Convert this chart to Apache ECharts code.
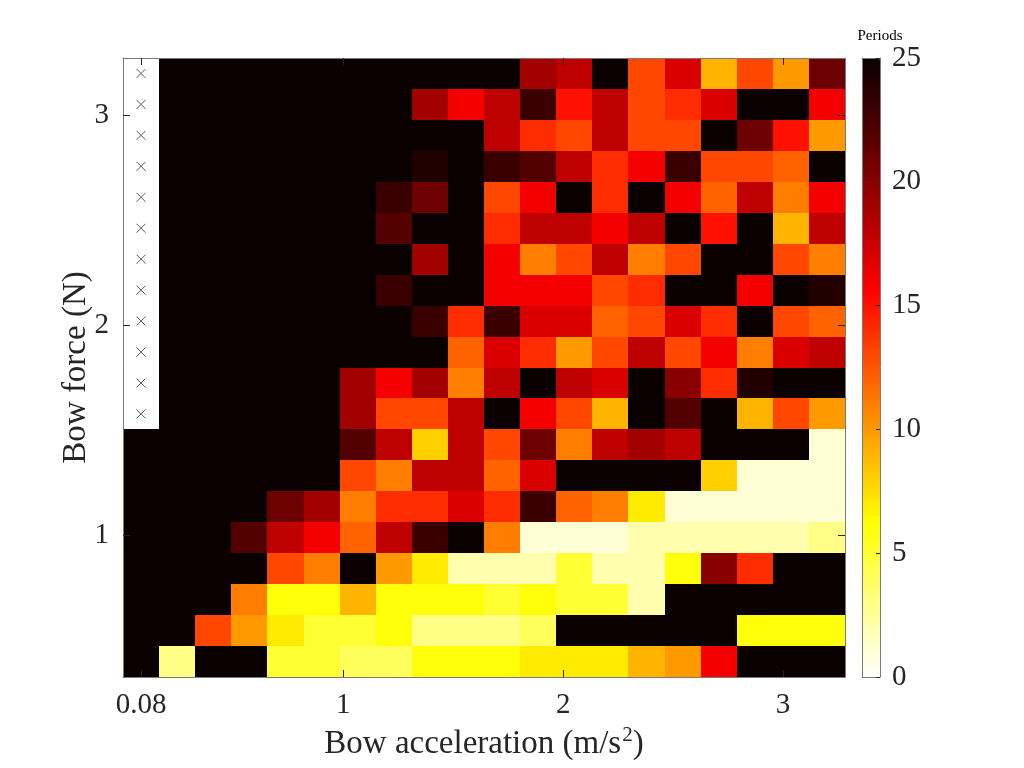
<!DOCTYPE html>
<html><head><meta charset="utf-8">
<script src="https://cdn.jsdelivr.net/npm/echarts@6/dist/echarts.min.js"></script>
<style>html,body{margin:0;padding:0;background:#fff}#c{width:1024px;height:768px}</style>
</head><body><div id="c"></div>
<script>
// Bow acceleration (m/s^2) – column centres
const xValues = [0.08, 0.2442, 0.4084, 0.5726, 0.7368, 0.9011, 1.0653, 1.2295, 1.3937, 1.5579,
                 1.7221, 1.8863, 2.0505, 2.2147, 2.3789, 2.5432, 2.7074, 2.8716, 3.0358, 3.2];
// Bow force (N) – row centres (bottom to top)
const yValues = [0.4, 0.5474, 0.6947, 0.8421, 0.9895, 1.1368, 1.2842, 1.4316, 1.5789, 1.7263,
                 1.8737, 2.0211, 2.1684, 2.3158, 2.4632, 2.6105, 2.7579, 2.9053, 3.0526, 3.2];
const xTicks = [0.08, 1, 2, 3];
const yTicks = [1, 2, 3];
const colorbarTicks = [0, 5, 10, 15, 20, 25];
// Periods, rows listed from the top (force 3.2) down to the bottom (force 0.4); null = not computed
const periodsTopDown = [
  [null,25,25,25,25,25,25,25,25,25,25,19,18,25,13,17, 9,13,10,21],
  [null,25,25,25,25,25,25,25,19,16,18,23,15,18,13,14,17,25,25,16],
  [null,25,25,25,25,25,25,25,25,25,18,14,13,18,13,13,25,21,15,10],
  [null,25,25,25,25,25,25,25,24,25,23,22,18,14,16,23,13,13,12,25],
  [null,25,25,25,25,25,25,23,21,25,13,16,25,14,25,16,12,18,11,16],
  [null,25,25,25,25,25,25,22,25,25,14,18,18,16,18,25,15,25, 9,18],
  [null,25,25,25,25,25,25,25,19,25,16,11,13,18,11,13,25,25,13,11],
  [null,25,25,25,25,25,25,23,25,25,16,16,16,13,14,25,25,16,25,24],
  [null,25,25,25,25,25,25,25,23,14,23,17,17,12,13,17,14,25,13,12],
  [null,25,25,25,25,25,25,25,25,12,17,14,10,13,18,13,16,11,17,18],
  [null,25,25,25,25,25,19,16,19,11,18,25,18,17,25,20,14,24,25,25],
  [null,25,25,25,25,25,19,13,13,18,25,16,13, 9,25,22,25, 9,13,10],
  [25,25,25,25,25,25,22,18, 8,18,13,21,11,18,19,18,25,25,25, 1],
  [25,25,25,25,25,25,13,11,18,18,12,17,25,25,25,25, 8, 1, 1, 1],
  [25,25,25,25,21,19,11,14,14,17,14,23,12,11, 7, 1, 1, 1, 1, 1],
  [25,25,25,22,18,16,12,18,23,25,11, 1, 1, 1, 2, 2, 2, 2, 2, 3],
  [25,25,25,25,13,11,25,10, 7, 2, 2, 2, 5, 2, 2, 6,20,14,25,25],
  [25,25,25,11, 6, 6, 9, 6, 6, 6, 5, 6, 5, 5, 2,25,25,25,25,25],
  [25,25,13,10, 7, 5, 5, 6, 3, 3, 3, 4,25,25,25,25,25, 6, 6, 6],
  [25, 3,25,25, 5, 5, 4, 4, 6, 6, 6, 7, 7, 7, 9,10,16,25,25,25]
];

const FONT = 'Liberation Serif';
const TXT = '#262626';
const BOX = '#7a7a7a';

function edges(v) {
  const e = [v[0] - (v[1] - v[0]) / 2];
  for (let i = 1; i < v.length; i++) e.push((v[i - 1] + v[i]) / 2);
  e.push(v[v.length - 1] + (v[v.length - 1] - v[v.length - 2]) / 2);
  return e;
}
const xE = edges(xValues), yE = edges(yValues);

const cells = [], nanCells = [];
periodsTopDown.forEach((row, r) => {
  const j = yValues.length - 1 - r;
  row.forEach((v, i) => {
    if (v === null) nanCells.push([xValues[i], yValues[j], i, j]);
    else cells.push([xValues[i], yValues[j], v, i, j]);
  });
});

function renderCell(params, api) {
  const i = api.value(3), j = api.value(4);
  const a = api.coord([xE[i], yE[j + 1]]), b = api.coord([xE[i + 1], yE[j]]);
  const x0 = Math.round(a[0]), y0 = Math.round(a[1]), x1 = Math.round(b[0]), y1 = Math.round(b[1]);
  return { type: 'rect', shape: { x: x0, y: y0, width: x1 - x0, height: y1 - y0 },
           style: { fill: api.visual('color') } };
}
function renderNan(params, api) {
  const c = api.coord([api.value(0), api.value(1)]);
  const s = 4.5;
  const st = { stroke: '#5a5a5a', lineWidth: 1 };
  return { type: 'group', children: [
    { type: 'line', shape: { x1: c[0] - s, y1: c[1] - s, x2: c[0] + s, y2: c[1] + s }, style: st },
    { type: 'line', shape: { x1: c[0] - s, y1: c[1] + s, x2: c[0] + s, y2: c[1] - s }, style: st }
  ]};
}

const lbl = { fontFamily: FONT, fontSize: 29, color: TXT };
const boxLine = { show: true, onZero: false, lineStyle: { color: BOX, width: 1 } };
const tickIn = (vals) => ({ show: true, inside: true, length: 7, customValues: vals, lineStyle: { color: TXT, width: 1 } });

const chart = echarts.init(document.getElementById('c'), null, { renderer: 'canvas' });
chart.setOption({
  animation: false,
  backgroundColor: '#ffffff',
  grid: [
    { left: 123, right: 179, top: 58, bottom: 91 },
    { left: 862, top: 58, width: 18, height: 619 }
  ],
  xAxis: [
    { gridIndex: 0, type: 'value', position: 'bottom', min: xE[0], max: xE[xE.length - 1], z: 5,
      axisLine: boxLine, axisTick: tickIn(xTicks), splitLine: { show: false },
      axisLabel: Object.assign({ customValues: xTicks, margin: 14, formatter: v => String(v) }, lbl),
      name: '{t|Bow acceleration (m/s}{s|2}{t|)}', nameLocation: 'middle', nameGap: 48,
      nameTextStyle: { fontFamily: FONT, fontSize: 33, color: TXT,
        rich: { t: { fontFamily: FONT, fontSize: 33, color: TXT, lineHeight: 38 },
                s: { fontFamily: FONT, fontSize: 21, color: TXT, verticalAlign: 'top', lineHeight: 38, padding: [0, 0, 0, 1] } } } },
    { gridIndex: 0, type: 'value', position: 'top', min: xE[0], max: xE[xE.length - 1], z: 5,
      axisLine: boxLine, axisTick: tickIn(xTicks), axisLabel: { show: false }, splitLine: { show: false } },
    { gridIndex: 1, type: 'value', position: 'bottom', min: 0, max: 1, z: 5,
      axisLine: boxLine, axisTick: { show: false }, axisLabel: { show: false }, splitLine: { show: false } },
    { gridIndex: 1, type: 'value', position: 'top', min: 0, max: 1, z: 5,
      axisLine: boxLine, axisTick: { show: false }, axisLabel: { show: false }, splitLine: { show: false } }
  ],
  yAxis: [
    { gridIndex: 0, type: 'value', position: 'left', min: yE[0], max: yE[yE.length - 1], z: 5,
      axisLine: boxLine, axisTick: tickIn(yTicks), splitLine: { show: false },
      axisLabel: Object.assign({ customValues: yTicks, margin: 14, formatter: v => String(v) }, lbl),
      name: 'Bow force (N)', nameLocation: 'middle', nameGap: 30, nameRotate: 90, nameMoveOverlap: false,
      nameTextStyle: { fontFamily: FONT, fontSize: 33, color: TXT } },
    { gridIndex: 0, type: 'value', position: 'right', min: yE[0], max: yE[yE.length - 1], z: 5,
      axisLine: boxLine, axisTick: tickIn(yTicks), axisLabel: { show: false }, splitLine: { show: false } },
    { gridIndex: 1, type: 'value', position: 'right', min: 0, max: 25, interval: 5, z: 5,
      axisLine: boxLine, splitLine: { show: false },
      axisTick: { show: true, inside: true, length: 4, customValues: colorbarTicks, lineStyle: { color: TXT } },
      axisLabel: Object.assign({ customValues: colorbarTicks, margin: 12 }, lbl),
      name: 'Periods', nameLocation: 'end', nameGap: 6,
      nameTextStyle: { fontFamily: FONT, fontSize: 15, color: '#000', align: 'center' } },
    { gridIndex: 1, type: 'value', position: 'left', min: 0, max: 25, z: 5,
      axisLine: boxLine, axisTick: { show: false }, axisLabel: { show: false }, splitLine: { show: false } }
  ],
  visualMap: {
    type: 'continuous', min: 0, max: 25, dimension: 2, seriesIndex: 0,
    left: 862, top: 58, itemWidth: 18, itemHeight: 619, padding: 0,
    calculable: false, showLabel: false, text: null, realtime: false,
    inRange: { color: ['#ffffff', '#ffff80', '#ffff00', '#ffaa00', '#ff5500', '#ff0000', '#aa0000', '#550000', '#0b0000'] }
  },
  series: [
    { type: 'custom', xAxisIndex: 0, yAxisIndex: 0, renderItem: renderCell, data: cells, z: 1,
      encode: { x: 0, y: 1 }, dimensions: ['x', 'y', 'periods', 'i', 'j'], silent: true },
    { type: 'custom', xAxisIndex: 0, yAxisIndex: 0, renderItem: renderNan, data: nanCells, z: 2,
      encode: { x: 0, y: 1 }, silent: true }
  ]
});
</script>
</body></html>
